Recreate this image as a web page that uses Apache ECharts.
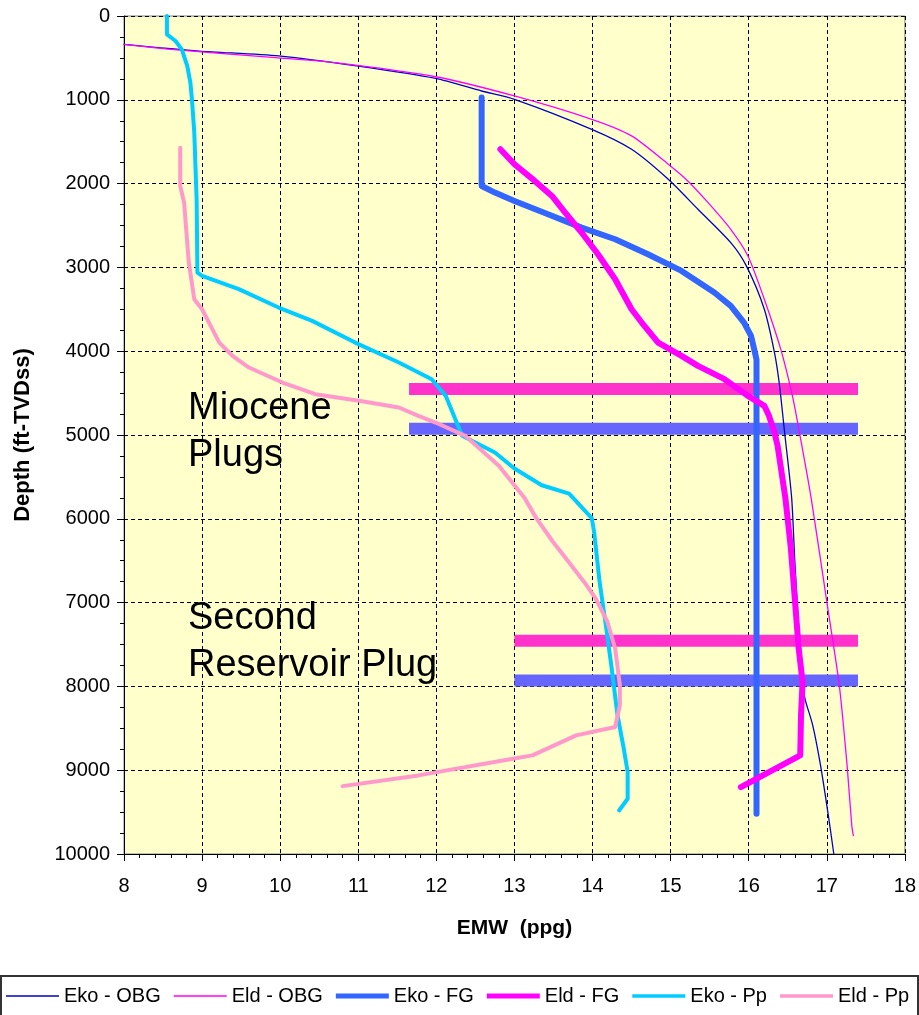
<!DOCTYPE html>
<html><head><meta charset="utf-8">
<script src="https://cdn.jsdelivr.net/npm/echarts@6/dist/echarts.min.js"></script>
<style>html,body{margin:0;padding:0;background:#fff}#c{width:919px;height:1015px}</style>
</head><body><div id="c"></div>
<script>
// ---- data (EMW in ppg vs depth in ft-TVDss) ----
const ekoObgDepth = [338, 418, 477, 596, 745, 895, 994, 1352, 1590, 1948, 2306, 2704, 2982, 3499, 4016, 4374, 4970, 5750, 6500, 7300, 7946, 8145, 8464, 8943, 9541, 10000];
const ekoObgEmw   = [8.0, 8.96, 9.98, 10.98, 11.99, 12.58, 13.0, 13.99, 14.5, 14.97, 15.35, 15.77, 15.97, 16.2, 16.33, 16.39, 16.46, 16.55, 16.59, 16.64, 16.69, 16.72, 16.82, 16.92, 17.02, 17.09];

const eldObgDepth = [338, 398, 497, 557, 725, 954, 1233, 1431, 1769, 1968, 2227, 2545, 2863, 3380, 3976, 4533, 4970, 5753, 6989, 7986, 8943, 9660, 9780];
const eldObgEmw   = [8.0, 8.6, 9.94, 10.7, 11.99, 13.0, 13.99, 14.5, 14.97, 15.22, 15.48, 15.77, 15.99, 16.2, 16.41, 16.56, 16.65, 16.8, 17.0, 17.16, 17.26, 17.32, 17.34];

const ekoFgDepth = [974, 2028, 2107, 2207, 2366, 2525, 2664, 2843, 3042, 3300, 3459, 3658, 3817, 4016, 4100, 9520];
const ekoFgEmw   = [12.58, 12.58, 12.75, 13.0, 13.43, 13.86, 14.29, 14.71, 15.14, 15.56, 15.77, 15.94, 16.03, 16.08, 16.1, 16.1];

const eldFgDepth = [1590, 1769, 1968, 2147, 2346, 2584, 2843, 3141, 3499, 3658, 3897, 4056, 4175, 4334, 4533, 4652, 4771, 4970, 5129, 5753, 6351, 6949, 7547, 7946, 8344, 8823, 9202];
const eldFgEmw   = [12.82, 13.0, 13.26, 13.48, 13.65, 13.86, 14.07, 14.29, 14.5, 14.63, 14.84, 15.14, 15.35, 15.69, 15.99, 16.2, 16.26, 16.33, 16.37, 16.47, 16.54, 16.59, 16.64, 16.69, 16.67, 16.66, 15.9];

const ekoPpDepth = [0, 219, 298, 398, 596, 795, 994, 1392, 2187, 3062, 3101, 3260, 3479, 3638, 3897, 4135, 4334, 4533, 4851, 5010, 5209, 5400, 5600, 5700, 5992, 6152, 6750, 7268, 7746, 8344, 8743, 9022, 9341, 9481];
const ekoPpEmw   = [8.55, 8.55, 8.66, 8.74, 8.81, 8.85, 8.87, 8.9, 8.93, 8.94, 9.0, 9.47, 9.98, 10.41, 10.96, 11.52, 11.94, 12.12, 12.26, 12.33, 12.75, 13.0, 13.35, 13.7, 13.99, 14.02, 14.09, 14.17, 14.24, 14.32, 14.4, 14.45, 14.45, 14.34];

const eldPpDepth = [1571, 2028, 2227, 2584, 2942, 3380, 3499, 3698, 3897, 4056, 4195, 4374, 4513, 4592, 4672, 4771, 4851, 5010, 5368, 5753, 5992, 6271, 6510, 6750, 6949, 7228, 7547, 7986, 8225, 8484, 8584, 8823, 8863, 9062, 9190];
const eldPpEmw   = [8.72, 8.72, 8.77, 8.8, 8.83, 8.9, 9.0, 9.11, 9.22, 9.39, 9.6, 10.03, 10.45, 11.01, 11.52, 11.77, 11.99, 12.37, 12.8, 13.13, 13.28, 13.49, 13.69, 13.89, 14.04, 14.19, 14.29, 14.35, 14.35, 14.29, 13.79, 13.23, 12.98, 11.77, 10.8];

// cement plugs (horizontal bars)
const plugNames    = ['Miocene plug A', 'Miocene plug B', 'Reservoir plug A', 'Reservoir plug B'];
const plugDepths   = [4450, 4925, 7455, 7930];
const plugStartEmw = [11.65, 11.65, 13.0, 13.0];
const plugEndEmw   = [17.4, 17.4, 17.4, 17.4];

const seriesNames = ['Eko - OBG', 'Eld - OBG', 'Eko - FG', 'Eld - FG', 'Eko - Pp', 'Eld - Pp'];
const xMin = 8, xMax = 18, xStep = 1;
const yMin = 0, yMax = 10000, yStep = 1000;

// ---- styles ----
const colors = ['#0000CC', '#FF00FF', '#3366FF', '#FF00FF', '#00CCFF', '#FF99CC'];
const widths = [1.3, 1.3, 6, 6, 4, 4];
const smooths = [0.25, 0.25, 0, 0, 0, 0];
const iconThick = [1.5, 1.5, 5, 5, 3.5, 3.5];
const plugColors = ['#FF33CC', '#6666FF', '#FF33CC', '#6666FF'];

function zip(xs, ys) { return xs.map((x, i) => [x, ys[i]]); }
const seriesData = [
  zip(ekoObgEmw, ekoObgDepth), zip(eldObgEmw, eldObgDepth),
  zip(ekoFgEmw, ekoFgDepth), zip(eldFgEmw, eldFgDepth),
  zip(ekoPpEmw, ekoPpDepth), zip(eldPpEmw, eldPpDepth)
];
function iconPath(t) {
  const a = (10 - t / 2).toFixed(2), b = (10 + t / 2).toFixed(2);
  return 'path://M0,0M53,20M0,' + a + 'H53V' + b + 'H0Z';
}

const FONT = '"Liberation Sans", Arial, sans-serif';
const series = [];
plugNames.forEach((n, i) => {
  series.push({
    name: n, type: 'line', symbol: 'none', silent: true,
    data: [[plugStartEmw[i], plugDepths[i]], [plugEndEmw[i], plugDepths[i]]],
    lineStyle: { color: plugColors[i], width: 12, cap: 'butt' },
    itemStyle: { color: plugColors[i] }
  });
});
seriesNames.forEach((n, i) => {
  series.push({
    name: n, type: 'line', symbol: 'none', showSymbol: false,
    smooth: smooths[i],
    data: seriesData[i],
    lineStyle: { color: colors[i], width: widths[i], join: 'round', cap: 'round' },
    itemStyle: { color: colors[i] },
    z: 3 + i
  });
});

const chart = echarts.init(document.getElementById('c'), null, { renderer: 'canvas' });
chart.setOption({
  animation: false,
  backgroundColor: '#fff',
  textStyle: { fontFamily: FONT },
  grid: { left: 124, right: 12, top: 16, bottom: 161, show: true, backgroundColor: '#FFFFCC', borderColor: '#808080', borderWidth: 1 },
  xAxis: {
    type: 'value', position: 'bottom', min: xMin, max: xMax, interval: xStep,
    axisLine: { show: true, onZero: false, lineStyle: { color: '#000', width: 1 } },
    axisTick: { show: true, length: 7, lineStyle: { color: '#000' } },
    minorTick: { show: true, splitNumber: 5, length: 4, lineStyle: { color: '#000' } },
    splitLine: { show: true, lineStyle: { color: '#000', width: 1, type: [4, 3] } },
    axisLabel: { fontSize: 20, color: '#000', margin: 22, fontFamily: FONT },
    name: 'EMW  (ppg)', nameLocation: 'middle', nameGap: 64,
    nameTextStyle: { fontSize: 21, fontWeight: 'bold', color: '#000', fontFamily: FONT }
  },
  yAxis: {
    type: 'value', inverse: true, min: yMin, max: yMax, interval: yStep,
    axisLine: { show: true, onZero: false, lineStyle: { color: '#000', width: 1 } },
    axisTick: { show: true, length: 7, lineStyle: { color: '#000' } },
    minorTick: { show: true, splitNumber: 4, length: 4, lineStyle: { color: '#000' } },
    splitLine: { show: true, lineStyle: { color: '#000', width: 1, type: [4, 3] } },
    axisLabel: { fontSize: 20, color: '#000', margin: 14, fontFamily: FONT, formatter: v => String(v) },
    name: 'Depth (ft-TVDss)', nameLocation: 'middle', nameGap: 90, nameRotate: 90,
    nameTextStyle: { fontSize: 22, fontWeight: 'bold', color: '#000', fontFamily: FONT }
  },
  legend: {
    data: seriesNames.map((n, i) => ({ name: n, icon: iconPath(iconThick[i]) })),
    left: 6, top: 986, width: 913, itemWidth: 53, itemHeight: 20, itemGap: 13,
    padding: 0,
    itemStyle: { borderWidth: 0 },
    textStyle: { fontSize: 20, color: '#000', fontFamily: FONT },
    selectedMode: false
  },
  graphic: [
    { type: 'rect', z: 0, shape: { x: 1, y: 976, width: 917, height: 60 }, style: { fill: '#fff', stroke: '#333', lineWidth: 2 } },
    { type: 'text', z: 1, left: 188, top: 385, style: { text: 'Miocene\nPlugs', font: '38px ' + FONT, fill: '#000', lineHeight: 47 } },
    { type: 'text', z: 1, left: 188, top: 595, style: { text: 'Second\nReservoir Plug', font: '38px ' + FONT, fill: '#000', lineHeight: 47 } }
  ],
  series: series
});
</script></body></html>
